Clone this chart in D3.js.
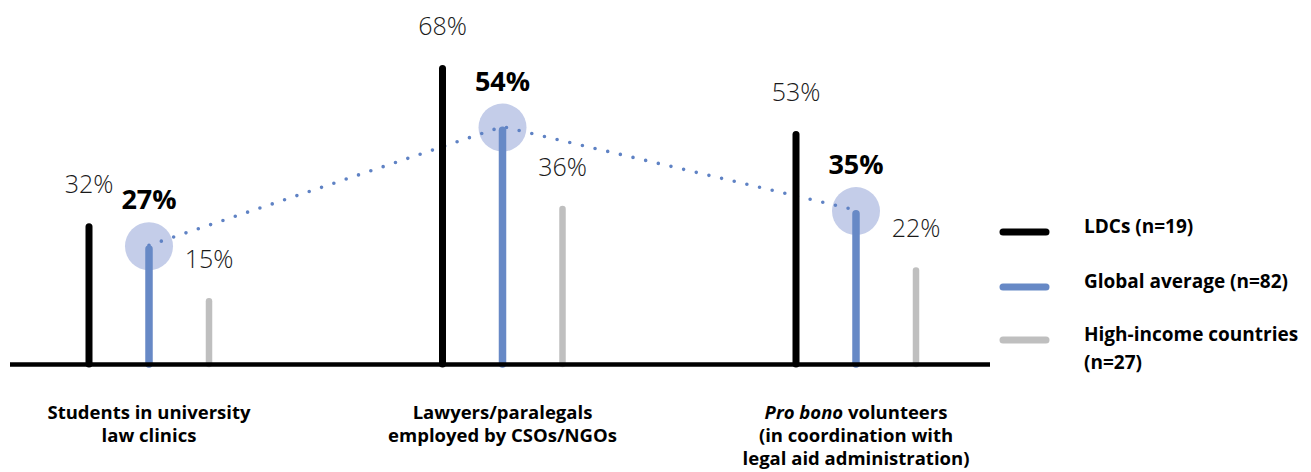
<!DOCTYPE html>
<html><head><meta charset="utf-8">
<script src="https://cdn.jsdelivr.net/npm/d3@7"></script>
<style>
html,body{margin:0;padding:0;background:#fff;}
svg{display:block;}
</style></head>
<body><svg id="c" width="1311" height="472"></svg>
<script>
const categories = ["Students in university law clinics", "Lawyers/paralegals employed by CSOs/NGOs", "Pro bono volunteers (in coordination with legal aid administration)"];
const categoryLines = [
  ["Students in university", "law clinics"],
  ["Lawyers/paralegals", "employed by CSOs/NGOs"],
  ["*Pro bono* volunteers", "(in coordination with", "legal aid administration)"]
];
const seriesNames = ["LDCs (n=19)", "Global average (n=82)", "High-income countries (n=27)"];
const legendLines = [["LDCs (n=19)"], ["Global average (n=82)"], ["High-income countries", "(n=27)"]];
const ldcValues = [32, 68, 53];
const globalValues = [27, 54, 35];
const highIncomeValues = [15, 36, 22];
const seriesColors = ["#000000", "#6789c6", "#bfbfbf"];

const svg = d3.select("#c");
const x = d3.scalePoint().domain(categories).range([149, 856]);
const xs = d3.scalePoint().domain(seriesNames).range([-60, 60]);
const y = d3.scaleLinear().domain([0, 68]).range([364, 65]);

const seriesData = [ldcValues, globalValues, highIncomeValues];
const barW = [7, 7.5, 6.5];
const font = "'Open Sans', sans-serif";

// circles
const gPts = categories.map((c, i) => ({x: x(c) + xs(seriesNames[1]), y: y(globalValues[i]), v: globalValues[i]}));
svg.append("g").selectAll("circle").data(gPts).join("circle")
  .attr("cx", d => d.x).attr("cy", d => d.y + 1).attr("r", 24)
  .attr("fill", "#c4cde9");

// dotted line
svg.append("path").datum(gPts)
  .attr("d", d3.line().x(d => d.x).y(d => d.y))
  .attr("fill", "none").attr("stroke", "#5f82c4")
  .attr("stroke-width", 3.6).attr("stroke-linecap", "round")
  .attr("stroke-dasharray", "0,13");

// bars
seriesData.forEach((vals, si) => {
  svg.append("g").selectAll("line").data(vals).join("line")
    .attr("x1", (d, i) => x(categories[i]) + xs(seriesNames[si]))
    .attr("x2", (d, i) => x(categories[i]) + xs(seriesNames[si]))
    .attr("y1", y(0))
    .attr("y2", d => y(d) + barW[si] / 2)
    .attr("stroke", seriesColors[si])
    .attr("stroke-width", barW[si])
    .attr("stroke-linecap", "round");
});

// baseline
svg.append("line").attr("x1", 10).attr("x2", 990).attr("y1", y(0) + 0.5).attr("y2", y(0) + 0.5)
  .attr("stroke", "#000").attr("stroke-width", 4.5);

// value labels
seriesData.forEach((vals, si) => {
  svg.append("g").selectAll("text").data(vals).join("text")
    .attr("x", (d, i) => x(categories[i]) + xs(seriesNames[si]))
    .attr("y", d => y(d) - (si === 1 ? 36 : 30))
    .attr("text-anchor", "middle")
    .attr("font-family", font)
    .attr("font-size", si === 1 ? 27 : 25)
    .attr("font-weight", si === 1 ? 700 : 300)
    .attr("fill", si === 1 ? "#000" : "#1a1a1a")
    .text(d => d + "%");
});

// category labels
categories.forEach((c, i) => {
  const t = svg.append("text")
    .attr("x", x(c)).attr("y", 419)
    .attr("text-anchor", "middle")
    .attr("font-family", font)
    .attr("font-size", 18.5).attr("font-weight", 700).attr("fill", "#000");
  categoryLines[i].forEach((line, li) => {
    const ts = t.append("tspan").attr("x", x(c)).attr("dy", li === 0 ? 0 : 23);
    const parts = line.split("*");
    parts.forEach((p, pi) => {
      if (!p) return;
      ts.append("tspan").attr("font-style", pi % 2 === 1 ? "italic" : "normal").text(p);
    });
  });
});

// legend
const legendY = [232, 287, 340];
seriesNames.forEach((s, i) => {
  svg.append("line").attr("x1", 1003).attr("x2", 1046)
    .attr("y1", legendY[i]).attr("y2", legendY[i])
    .attr("stroke", seriesColors[i]).attr("stroke-width", 7).attr("stroke-linecap", "round");
  const t = svg.append("text").attr("x", 1084).attr("y", legendY[i] + 1)
    .attr("font-family", font).attr("font-size", 19).attr("font-weight", 700).attr("fill", "#000");
  legendLines[i].forEach((l, li) => t.append("tspan").attr("x", 1084).attr("dy", li === 0 ? 0 : 28).text(l));
});
</script>
</body></html>
